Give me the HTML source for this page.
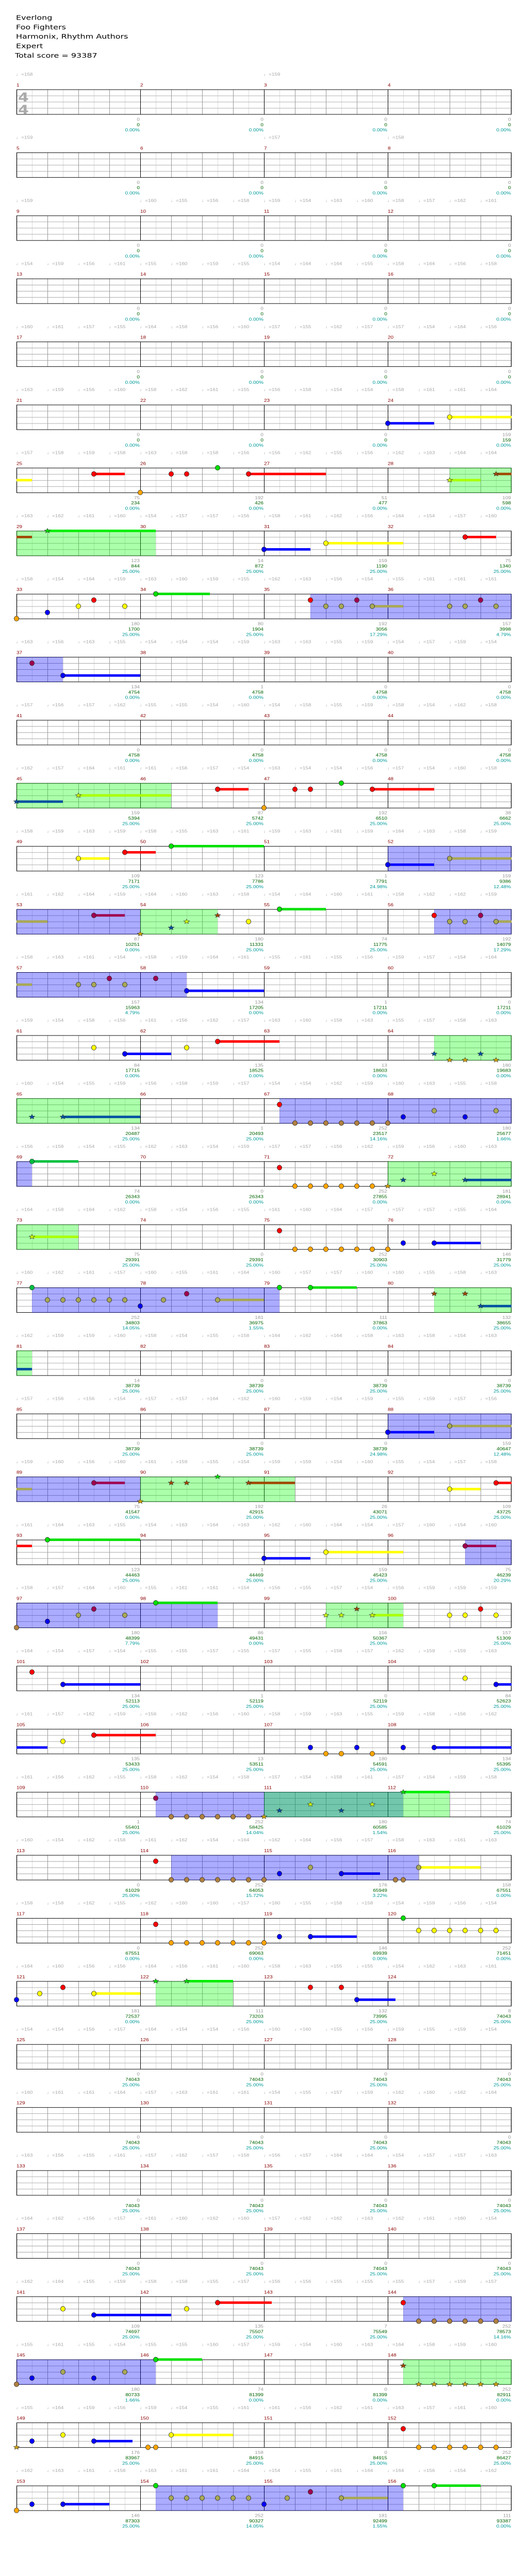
<!DOCTYPE html>
<html><head><meta charset="utf-8"><style>
html,body{margin:0;padding:0;background:#fff;width:1024px;height:4947px;overflow:hidden;}
svg{display:block;position:absolute;left:0;top:0;width:1024px;height:4947px;}
</style></head><body>
<svg id="s" xmlns="http://www.w3.org/2000/svg" width="1024" height="4947" viewBox="0 0 1024 6184" preserveAspectRatio="none">
<rect width="1024" height="6184" fill="#fff"/>
<g font-family="DejaVu Sans, Liberation Sans, sans-serif" font-size="16" fill="#000">
<text x="31" y="48">Everlong</text>
<text x="31" y="71">Foo Fighters</text>
<text x="31" y="94">Harmonix, Rhythm Authors</text>
<text x="31" y="117">Expert</text>
<text x="29" y="140">Total score = 93387</text>
</g>
</svg>
<script>
(function(){
var S=document.getElementById('s'),NS='http://www.w3.org/2000/svg';
function el(t,a,txt){var e=document.createElementNS(NS,t);for(var k in a)e.setAttribute(k,a[k]);if(txt!=null)e.textContent=txt;S.appendChild(e);return e;}
var X0=32,TOP=217,P=153;
function rt(r){return TOP+r*P;}
var scores=[
"0/0/0.00%,0/0/0.00%,0/0/0.00%,0/0/0.00%",
"0/0/0.00%,0/0/0.00%,0/0/0.00%,0/0/0.00%",
"0/0/0.00%,0/0/0.00%,0/0/0.00%,0/0/0.00%",
"0/0/0.00%,0/0/0.00%,0/0/0.00%,0/0/0.00%",
"0/0/0.00%,0/0/0.00%,0/0/0.00%,0/0/0.00%",
"0/0/0.00%,0/0/0.00%,0/0/0.00%,159/159/0.00%",
"75/234/0.00%,192/426/0.00%,51/477/0.00%,109/598/0.00%",
"123/844/25.00%,14/872/25.00%,159/1190/25.00%,75/1340/25.00%",
"180/1700/25.00%,80/1904/25.00%,192/3056/17.29%,157/3998/4.79%",
"134/4754/0.00%,1/4758/0.00%,0/4758/0.00%,0/4758/0.00%",
"0/4758/0.00%,0/4758/0.00%,0/4758/0.00%,0/4758/0.00%",
"159/5394/25.00%,87/5742/25.00%,192/6510/25.00%,38/6662/25.00%",
"109/7171/25.00%,123/7786/25.00%,1/7791/24.98%,159/9386/12.48%",
"87/10251/0.00%,180/11331/25.00%,74/11775/25.00%,192/14079/17.29%",
"157/15963/4.79%,134/17205/0.00%,1/17211/0.00%,0/17211/0.00%",
"84/17715/0.00%,135/18525/0.00%,13/18603/0.00%,180/19683/0.00%",
"134/20487/25.00%,1/20493/25.00%,252/23517/14.16%,180/25677/1.66%",
"74/26343/0.00%,0/26343/0.00%,252/27855/0.00%,181/28941/0.00%",
"75/29391/25.00%,0/29391/25.00%,252/30903/25.00%,146/31779/25.00%",
"252/34803/14.05%,181/36975/1.55%,111/37863/0.00%,132/38655/25.00%",
"14/38739/25.00%,0/38739/25.00%,0/38739/25.00%,0/38739/25.00%",
"0/38739/25.00%,0/38739/25.00%,0/38739/24.98%,159/40647/12.48%",
"75/41547/0.00%,192/42915/25.00%,26/43071/25.00%,109/43725/25.00%",
"123/44463/25.00%,1/44469/25.00%,159/45423/25.00%,75/46239/20.29%",
"180/48399/7.79%,86/49431/0.00%,156/50367/25.00%,157/51309/25.00%",
"134/52113/25.00%,1/52119/25.00%,0/52119/25.00%,84/52623/25.00%",
"135/53433/25.00%,13/53511/25.00%,180/54591/25.00%,134/55395/25.00%",
"1/55401/25.00%,252/58425/14.04%,180/60585/1.54%,74/61029/25.00%",
"0/61029/25.00%,252/64053/15.72%,176/65949/3.22%,158/67551/0.00%",
"0/67551/0.00%,252/69063/0.00%,146/69939/0.00%,252/71451/0.00%",
"181/72537/0.00%,111/73203/25.00%,132/73995/25.00%,8/74043/25.00%",
"0/74043/25.00%,0/74043/25.00%,0/74043/25.00%,0/74043/25.00%",
"0/74043/25.00%,0/74043/25.00%,0/74043/25.00%,0/74043/25.00%",
"0/74043/25.00%,0/74043/25.00%,0/74043/25.00%,0/74043/25.00%",
"0/74043/25.00%,0/74043/25.00%,0/74043/25.00%,0/74043/25.00%",
"109/74697/25.00%,135/75507/25.00%,7/75549/25.00%,252/78573/14.16%",
"180/80733/1.66%,74/81399/0.00%,0/81399/0.00%,252/82911/0.00%",
"176/83967/25.00%,158/84915/25.00%,0/84915/25.00%,252/86427/25.00%",
"146/87303/25.00%,252/90327/14.05%,181/92499/1.55%,111/93387/0.00%"];
var regions=[[6,840,960,'g'],[7,0,270,'g'],[8,570,960,'b'],[9,0,90,'b'],[11,0,300,'g'],[12,720,960,'b'],[13,0,240,'b'],[13,240,390,'g'],[13,810,960,'b'],[14,0,330,'b'],[15,810,960,'g'],[16,0,240,'g'],[16,510,960,'b'],[17,0,30,'b'],[17,720,960,'g'],[18,0,120,'g'],[19,30,510,'b'],[19,810,960,'g'],[20,0,30,'g'],[21,720,960,'b'],[22,0,240,'b'],[22,240,540,'g'],[23,870,960,'b'],[24,0,390,'b'],[24,600,750,'g'],[27,270,750,'b'],[27,480,840,'g'],[28,300,780,'b'],[30,270,420,'g'],[35,750,960,'b'],[36,0,270,'b'],[36,750,960,'g'],[38,270,750,'b']];
var N=[
[5,720,3,90,'n'],[5,840,2,120,'n'],
[6,0,2,30,'nx'],[6,150,1,60,'n'],[6,240,4,0,'n'],[6,300,1,0,'n'],[6,330,1,0,'n'],[6,390,0,0,'n'],[6,450,1,150,'n'],[6,840,2,60,'s'],[6,930,1,30,'s'],
[7,0,1,30,'sx'],[7,60,0,210,'s'],[7,480,3,90,'n'],[7,600,2,150,'n'],[7,870,1,60,'n'],
[8,0,4,0,'n'],[8,60,3,0,'n'],[8,120,2,0,'n'],[8,150,1,0,'n'],[8,210,2,0,'n'],[8,270,0,105,'n'],[8,570,1,0,'n'],[8,600,2,0,'o'],[8,630,2,0,'o'],[8,660,1,0,'o'],[8,690,2,60,'o'],[8,840,2,0,'o'],[8,870,2,0,'o'],[8,900,1,0,'o'],[8,930,2,0,'o'],
[9,30,1,0,'o'],[9,90,3,150,'n'],
[11,0,3,90,'s'],[11,120,2,180,'s'],[11,390,1,60,'n'],[11,480,4,0,'n'],[11,540,1,0,'n'],[11,570,1,0,'n'],[11,630,0,0,'n'],[11,690,1,120,'n'],
[12,120,2,60,'n'],[12,210,1,60,'n'],[12,300,0,180,'n'],[12,720,3,90,'n'],[12,840,2,120,'o'],
[13,0,2,60,'ox'],[13,150,1,60,'o'],[13,240,4,0,'s'],[13,300,3,0,'s'],[13,330,2,0,'s'],[13,390,1,0,'s'],[13,450,2,0,'n'],[13,510,0,90,'n'],[13,810,1,0,'n'],[13,840,2,0,'o'],[13,870,2,0,'o'],[13,900,1,0,'o'],[13,930,2,30,'o'],
[14,0,2,30,'ox'],[14,120,2,0,'o'],[14,150,2,0,'o'],[14,180,1,0,'o'],[14,210,2,0,'o'],[14,270,1,0,'o'],[14,330,3,150,'n'],
[15,150,2,0,'n'],[15,210,3,90,'n'],[15,330,2,0,'n'],[15,390,1,120,'n'],[15,810,3,0,'s'],[15,900,3,0,'s'],[15,840,4,0,'s'],[15,870,4,0,'s'],[15,930,4,0,'s'],
[16,30,3,0,'s'],[16,90,3,150,'s'],[16,510,1,0,'n'],[16,750,3,0,'o'],[16,810,2,0,'o'],[16,870,3,0,'o'],[16,930,2,0,'o'],
[17,30,0,90,'o'],[17,510,1,0,'n'],[17,720,4,0,'s'],[17,750,3,0,'s'],[17,810,2,0,'s'],[17,870,3,90,'s'],
[18,30,2,90,'s'],[18,510,1,0,'n'],[18,750,3,0,'n'],[18,810,3,90,'n'],
[19,30,0,0,'o'],[19,240,3,0,'o'],[19,285,2,0,'o'],[19,330,1,0,'o'],[19,390,2,90,'o'],[19,510,0,0,'n'],[19,570,0,90,'n'],[19,810,1,0,'s'],[19,870,1,0,'s'],[19,900,3,60,'s'],
[20,0,3,30,'sx'],
[21,720,3,90,'n'],[21,840,2,120,'o'],
[22,0,2,30,'ox'],[22,150,1,60,'o'],[22,240,4,0,'s'],[22,300,1,0,'s'],[22,330,1,0,'s'],[22,390,0,0,'s'],[22,450,1,90,'s'],[22,840,2,60,'n'],[22,930,1,30,'n'],
[23,0,1,30,'nx'],[23,60,0,180,'n'],[23,480,3,90,'n'],[23,600,2,150,'n'],[23,870,1,60,'o'],
[24,0,4,0,'o'],[24,60,3,0,'o'],[24,120,2,0,'o'],[24,150,1,0,'o'],[24,210,2,0,'o'],[24,270,0,120,'n'],[24,600,2,0,'s'],[24,630,2,0,'s'],[24,660,1,0,'s'],[24,690,2,60,'s'],[24,840,2,0,'n'],[24,870,2,0,'n'],[24,900,1,0,'n'],[24,930,2,0,'n'],
[25,30,1,0,'n'],[25,90,3,150,'n'],[25,870,2,0,'n'],[25,930,3,30,'n'],
[26,0,3,60,'nx'],[26,90,2,0,'n'],[26,150,1,120,'n'],[26,570,3,0,'n'],[26,600,4,0,'n'],[26,630,4,0,'n'],[26,660,3,0,'n'],[26,690,4,0,'n'],[26,750,3,0,'n'],[26,810,3,150,'n'],
[27,270,1,0,'o'],[27,480,4,0,'s'],[27,510,3,0,'s'],[27,630,3,0,'s'],[27,570,2,0,'s'],[27,690,2,0,'s'],[27,750,0,90,'s'],
[28,270,1,0,'n'],[28,510,3,0,'o'],[28,570,2,0,'o'],[28,630,3,75,'o'],[28,735,4,0,'o'],[28,750,4,0,'o'],[28,780,2,120,'nx'],[28,780,2,0,'o'],
[29,270,1,0,'n'],[29,510,3,0,'n'],[29,570,3,90,'n'],[29,750,0,0,'n'],
[30,0,3,0,'n'],[30,45,2,0,'n'],[30,90,1,0,'n'],[30,150,2,90,'n'],[30,270,0,0,'s'],[30,330,0,90,'s'],[30,570,1,0,'n'],[30,630,1,0,'n'],[30,660,3,75,'n'],
[35,90,2,0,'n'],[35,150,3,150,'n'],[35,330,2,0,'n'],[35,390,1,105,'n'],[35,750,1,0,'n'],
[36,0,4,0,'o'],[36,30,3,0,'o'],[36,90,2,0,'o'],[36,150,3,0,'o'],[36,210,2,0,'o'],[36,270,0,90,'n'],[36,750,1,0,'s'],
[37,0,4,0,'s'],[37,30,3,0,'n'],[37,90,2,0,'n'],[37,150,3,75,'n'],[37,255,4,0,'n'],[37,270,4,0,'n'],[37,300,2,120,'n'],[37,750,1,0,'n'],
[38,0,4,0,'n'],[38,30,3,0,'n'],[38,90,3,90,'n'],[38,270,0,0,'n'],[38,480,3,0,'n'],[38,525,2,0,'o'],[38,570,1,0,'o'],[38,630,2,90,'o'],[38,750,0,0,'n'],[38,810,0,90,'n']];
function seq(r,a,b,lane,k){for(var x=a;x<=b;x+=30)N.push([r,x,lane,0,k]);}
seq(16,540,720,4,'o');seq(17,540,690,4,'n');seq(18,540,720,4,'n');seq(19,60,210,2,'o');
seq(27,300,450,4,'o');seq(28,300,480,4,'o');seq(29,300,480,4,'n');seq(29,780,930,2,'n');
seq(35,780,930,4,'o');seq(36,780,930,4,'s');seq(37,780,930,4,'n');seq(38,300,450,2,'o');
var C={n:['#00e000','#ff0000','#ffff00','#0000ff','#ffa500'],o:['#00c040','#a00050','#a8a855','#0000ee','#b08040'],s:['#00dd00','#a04800','#ccff00','#0050a0','#d0a000']};
var BC={n:C.n,o:C.o,s:['#00ee00','#a04800','#aaff00','#0050a0','#d0a000']};
function tempos(r){if(r==0)return[0,480];if(r==1)return[0,480,720];if(r==2)return[0,240,300,360,420,480,540,600,660,720,780,840,900];var a=[];for(var i=0;i<16;i++)a.push(i*60);return a;}
var seed=7;function rnd(){seed=(seed*9301+49297)%233280;return seed/233280;}
var T0=[158,159,157,158,157];
for(var r=0;r<39;r++){
 var y=rt(r);
 var tp=tempos(r);
 for(var i=0;i<tp.length;i++){var v=(r==0&&i==0)?158:(r<2?T0[i+r]:(154+Math.floor(rnd()*11)));
  el('text',{x:X0+tp[i]-1,y:y-33,'font-family':'Liberation Sans, sans-serif','font-size':'10',fill:'#aaa'},'\u2669='+v);}
 for(var m=0;m<4;m++){el('text',{x:X0+m*240,y:y-7,'font-family':'Liberation Sans, sans-serif','font-size':'10',fill:'#8b0000'},String(r*4+m+1));}
 for(var k=0;k<32;k++){var gx=X0+k*30+0.5;if(k%8==0)continue;el('line',{x1:gx,y1:y,x2:gx,y2:y+60,stroke:(k%2?'#dddddd':'#999999'),'stroke-width':1});}
 for(var l=1;l<4;l++){el('line',{x1:X0,y1:y+l*15+0.5,x2:X0+960,y2:y+l*15+0.5,stroke:'#999','stroke-width':1});}
 for(var m=1;m<4;m++){el('line',{x1:X0+m*240+0.5,y1:y,x2:X0+m*240+0.5,y2:y+60,stroke:'#000','stroke-width':1});}
 el('rect',{x:X0+0.5,y:y+0.5,width:959,height:60,fill:'none',stroke:'#000','stroke-width':1.2});
 if(r==0){el('text',{x:X0+3,y:y+29,'font-family':'DejaVu Sans, sans-serif','font-size':'30','font-weight':'bold',fill:'#aaa'},'4');el('text',{x:X0+3,y:y+59,'font-family':'DejaVu Sans, sans-serif','font-size':'30','font-weight':'bold',fill:'#aaa'},'4');}
 var sc=scores[r].split(',');
 for(var m=0;m<4;m++){var p=sc[m].split('/'),ex=X0+(m+1)*240-1;
  el('text',{x:ex,y:y+76,'text-anchor':'end','font-family':'Liberation Sans, sans-serif','font-size':'10',fill:'#999'},p[0]);
  el('text',{x:ex,y:y+89,'text-anchor':'end','font-family':'Liberation Sans, sans-serif','font-size':'10',fill:'#006400'},p[1]);
  el('text',{x:ex,y:y+102,'text-anchor':'end','font-family':'Liberation Sans, sans-serif','font-size':'10',fill:'#009999'},p[2]);}
}
regions.forEach(function(g){var y=rt(g[0]);el('rect',{x:X0+g[1],y:y,width:g[2]-g[1],height:61,fill:g[3]=='b'?'rgba(0,0,255,0.33)':'rgba(0,255,0,0.33)'});});
N.forEach(function(n){if(n[3]>0){var k=n[4][0],y=rt(n[0])+n[2]*15;el('rect',{x:X0+n[1],y:y-3,width:n[3],height:6,fill:BC[k][n[2]]});}});
function star(cx,cy,rr,fill){var pts=[];for(var i=0;i<10;i++){var a=-Math.PI/2+i*Math.PI/5,q=i%2?rr*0.45:rr;pts.push((cx+q*Math.cos(a)).toFixed(1)+','+(cy+q*Math.sin(a)).toFixed(1));}el('polygon',{points:pts.join(' '),fill:fill,stroke:'#333','stroke-width':0.7});}
N.forEach(function(n){if(n[4].length>1)return;var k=n[4],cx=X0+n[1],cy=rt(n[0])+n[2]*15;
 if(k=='s')star(cx,cy,6,C.s[n[2]]);
 else el('ellipse',{cx:cx,cy:cy,rx:4.5,ry:6,fill:C[k][n[2]],stroke:'#222','stroke-width':0.8});});
})();
</script>
</body></html>
